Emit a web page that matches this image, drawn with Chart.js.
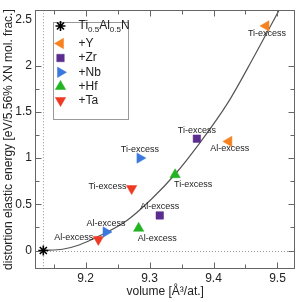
<!DOCTYPE html>
<html>
<head>
<meta charset="utf-8">
<script src="https://cdn.jsdelivr.net/npm/chart.js@4.4.1/dist/chart.umd.min.js"></script>
<style>
  body { margin: 0; background: #fff; }
  #wrap { width: 302px; height: 302px; }
</style>
</head>
<body>
<div id="wrap"><canvas id="chart" width="302" height="302"></canvas></div>
<script>
// reference cell Ti0.5Al0.5N
const refVolume = [9.134];
const refEnergy = [0];

// doped cells: first value Ti-excess, second Al-excess
const pointLabels = ['Ti-excess', 'Al-excess'];
const yVolume = [9.482, 9.424];
const yEnergy = [2.43, 1.18];
const zrVolume = [9.374, 9.316];
const zrEnergy = [1.21, 0.38];
const nbVolume = [9.285, 9.232];
const nbEnergy = [1.00, 0.20];
const hfVolume = [9.340, 9.283];
const hfEnergy = [0.82, 0.24];
const taVolume = [9.272, 9.220];
const taEnergy = [0.67, 0.12];

// fitted curve, points
const fitVolume = [9.134, 9.164, 9.19, 9.2165, 9.263, 9.3036, 9.340, 9.376, 9.4226, 9.4638, 9.5025];
const fitEnergy = [0, 0.014, 0.06, 0.14, 0.316, 0.56, 0.825, 1.14, 1.60, 2.105, 2.6];

const xTicks = [9.2, 9.3, 9.4, 9.5];
const yTicks = [0, 0.5, 1, 1.5, 2, 2.5];

const FONT = '"Liberation Sans", Arial, sans-serif';
const TEXT = '#222';
const FRAME = '#666';

function pts(xs, ys) {
    return xs.map((x, i) => ({x: x, y: ys[i]}));
}

function marker(label, xs, ys, color, style, rot, r, place) {
    return {
        label: label,
        data: pts(xs, ys),
        backgroundColor: color,
        borderColor: color,
        borderWidth: 0.5,
        pointStyle: style,
        rotation: rot,
        pointRadius: r,
        pointHoverRadius: r,
        place: place
    };
}

const datasets = [
    {
        label: 'Ti0.5Al0.5N',
        data: pts(refVolume, refEnergy),
        pointStyle: 'star',
        pointRadius: 5,
        borderColor: '#000',
        backgroundColor: '#000',
        borderWidth: 1.6
    },
    marker('+Y', yVolume, yEnergy, '#f7811e', 'triangle', -90, 6, ['below', 'below']),
    marker('+Zr', zrVolume, zrEnergy, '#5b2d8e', 'rect', 0, 5.3, ['above', 'above']),
    marker('+Nb', nbVolume, nbEnergy, '#3b78de', 'triangle', 90, 6, ['above', 'above']),
    marker('+Hf', hfVolume, hfEnergy, '#23b323', 'triangle', 0, 6, ['belowRight', 'belowRight']),
    marker('+Ta', taVolume, taEnergy, '#ee3a24', 'triangle', 180, 6, ['left', 'left']),
    {
        label: 'fit',
        data: pts(fitVolume, fitEnergy),
        showLine: true,
        pointRadius: 0,
        borderColor: '#555',
        borderWidth: 1.2,
        cubicInterpolationMode: 'monotone'
    }
];

// frame, inward ticks, dotted guide lines
const framePlugin = {
    id: 'frame',
    beforeDatasetsDraw(chart) {
        const ctx = chart.ctx;
        const a = chart.chartArea;
        const xs = chart.scales.x, ys = chart.scales.y;
        const px = Math.round(xs.getPixelForValue(refVolume[0])) + 0.5;
        const py = Math.round(ys.getPixelForValue(refEnergy[0])) + 0.5;
        ctx.save();
        ctx.strokeStyle = '#999';
        ctx.lineWidth = 1;
        ctx.setLineDash([1, 2]);
        ctx.beginPath();
        ctx.moveTo(px, a.top); ctx.lineTo(px, a.bottom);
        ctx.moveTo(a.left, py); ctx.lineTo(a.right, py);
        ctx.stroke();
        ctx.restore();
    },
    afterDraw(chart) {
        const ctx = chart.ctx;
        const a = chart.chartArea;
        const xs = chart.scales.x, ys = chart.scales.y;
        const L = Math.round(a.left) + 0.5, R = Math.round(a.right) - 0.5;
        const T = Math.round(a.top) + 0.5, B = Math.round(a.bottom) - 0.5;
        ctx.save();
        ctx.strokeStyle = FRAME;
        ctx.lineWidth = 1;
        ctx.strokeRect(L, T, R - L, B - T);

        function tickSet(vals, minV, maxV) {
            const step = vals[1] - vals[0];
            const out = [];
            for (let k = -3; k < vals.length + 3; k++) {
                const v = vals[0] + k * step / 2;
                if (v >= minV && v <= maxV) out.push({v: v, major: k % 2 === 0});
            }
            return out;
        }
        ctx.beginPath();
        tickSet(xTicks, xs.min, xs.max).forEach(t => {
            const p = Math.round(xs.getPixelForValue(t.v)) + 0.5;
            const len = t.major ? 6 : 4;
            ctx.moveTo(p, B); ctx.lineTo(p, B - len);
            ctx.moveTo(p, T); ctx.lineTo(p, T + len);
        });
        tickSet(yTicks, ys.min, ys.max).forEach(t => {
            const p = Math.round(ys.getPixelForValue(t.v)) + 0.5;
            const len = t.major ? 6 : 4;
            ctx.moveTo(L, p); ctx.lineTo(L + len, p);
            ctx.moveTo(R, p); ctx.lineTo(R - len, p);
        });
        ctx.stroke();

        // axis titles
        ctx.fillStyle = TEXT;
        ctx.font = '12px ' + FONT;
        ctx.textAlign = 'center';
        ctx.textBaseline = 'middle';
        ctx.fillText('volume [Å³/at.]', (a.left + a.right) / 2, 292);
        ctx.translate(9, (a.top + a.bottom) / 2);
        ctx.rotate(-Math.PI / 2);
        ctx.fillText('distortion elastic energy [eV/5.56% XN mol. frac.]', 0, 0);
        ctx.restore();
    }
};

// Ti-excess / Al-excess tags next to the markers
const tagPlugin = {
    id: 'tags',
    afterDatasetsDraw(chart) {
        const ctx = chart.ctx;
        ctx.save();
        ctx.fillStyle = TEXT;
        ctx.font = '9px ' + FONT;
        ctx.textBaseline = 'middle';
        chart.data.datasets.forEach((ds, di) => {
            if (!ds.place) return;
            const meta = chart.getDatasetMeta(di);
            meta.data.forEach((el, i) => {
                const txt = pointLabels[i];
                const where = ds.place[i];
                if (where === 'below') {
                    ctx.textAlign = 'center';
                    ctx.fillText(txt, el.x + 1, el.y + 7.5);
                } else if (where === 'above') {
                    ctx.textAlign = 'center';
                    ctx.fillText(txt, el.x, el.y - 8.5);
                } else if (where === 'belowRight') {
                    ctx.textAlign = 'left';
                    ctx.fillText(txt, el.x - 1, el.y + 10);
                } else {
                    ctx.textAlign = 'right';
                    ctx.fillText(txt, el.x - 5, el.y - 2);
                }
            });
        });
        ctx.restore();
    }
};

// boxed legend with subscripts
const legendPlugin = {
    id: 'boxLegend',
    afterDraw(chart) {
        const ctx = chart.ctx;
        const a = chart.chartArea;
        const bx = Math.round(a.left) + 18.5, by = Math.round(a.top) + 12.5;
        const bw = 75, bh = 97;
        ctx.save();
        ctx.fillStyle = '#fff';
        ctx.fillRect(bx, by, bw, bh);
        ctx.strokeStyle = '#999';
        ctx.lineWidth = 1;
        ctx.strokeRect(bx, by, bw, bh);

        const rows = [26, 43.5, 58, 72.3, 86.5, 100.5];
        const mx = bx + 7, tx = bx + 25;
        const sets = chart.data.datasets.filter(d => d.label !== 'fit');
        sets.forEach((ds, i) => {
            const y = rows[i];
            ctx.fillStyle = ds.backgroundColor;
            ctx.strokeStyle = ds.borderColor;
            ctx.lineWidth = ds.borderWidth;
            Chart.helpers.drawPoint(ctx, {
                pointStyle: ds.pointStyle,
                rotation: ds.rotation || 0,
                radius: ds.pointRadius,
                borderWidth: ds.borderWidth
            }, mx, y);
            ctx.fillStyle = TEXT;
            ctx.textAlign = 'left';
            ctx.textBaseline = 'middle';
            if (i === 0) {
                let x = tx;
                const parts = [['Ti', 0], ['0.5', 1], ['Al', 0], ['0.5', 1], ['N', 0]];
                parts.forEach(p => {
                    ctx.font = (p[1] ? '8px ' : '12px ') + FONT;
                    ctx.fillText(p[0], x, p[1] ? y + 4 : y);
                    x += ctx.measureText(p[0]).width;
                });
            } else {
                ctx.font = '12px ' + FONT;
                ctx.fillText(ds.label, tx, y);
            }
        });
        ctx.restore();
    }
};

new Chart(document.getElementById('chart'), {
    type: 'scatter',
    data: { datasets: datasets },
    options: {
        responsive: false,
        devicePixelRatio: 1,
        animation: false,
        layout: { padding: { top: 3, right: 4, left: 0, bottom: 0 } },
        plugins: {
            legend: { display: false },
            tooltip: { enabled: false }
        },
        scales: {
            x: {
                type: 'linear',
                min: 9.121,
                max: 9.528,
                afterBuildTicks: s => { s.ticks = xTicks.map(v => ({value: v})); },
                afterFit: s => { s.height = 33; },
                grid: { display: false, drawTicks: false },
                border: { display: false },
                ticks: {
                    color: TEXT,
                    font: { family: FONT, size: 12 },
                    padding: 2,
                    maxRotation: 0,
                    autoSkip: false,
                    callback: v => String(v)
                }
            },
            y: {
                type: 'linear',
                min: -0.2,
                max: 2.6,
                afterBuildTicks: s => { s.ticks = yTicks.map(v => ({value: v})); },
                afterFit: s => { s.width = 35; },
                grid: { display: false, drawTicks: false },
                border: { display: false },
                ticks: {
                    color: TEXT,
                    font: { family: FONT, size: 12 },
                    padding: 3,
                    autoSkip: false,
                    callback: v => String(v)
                }
            }
        }
    },
    plugins: [framePlugin, tagPlugin, legendPlugin]
});
</script>
</body>
</html>
